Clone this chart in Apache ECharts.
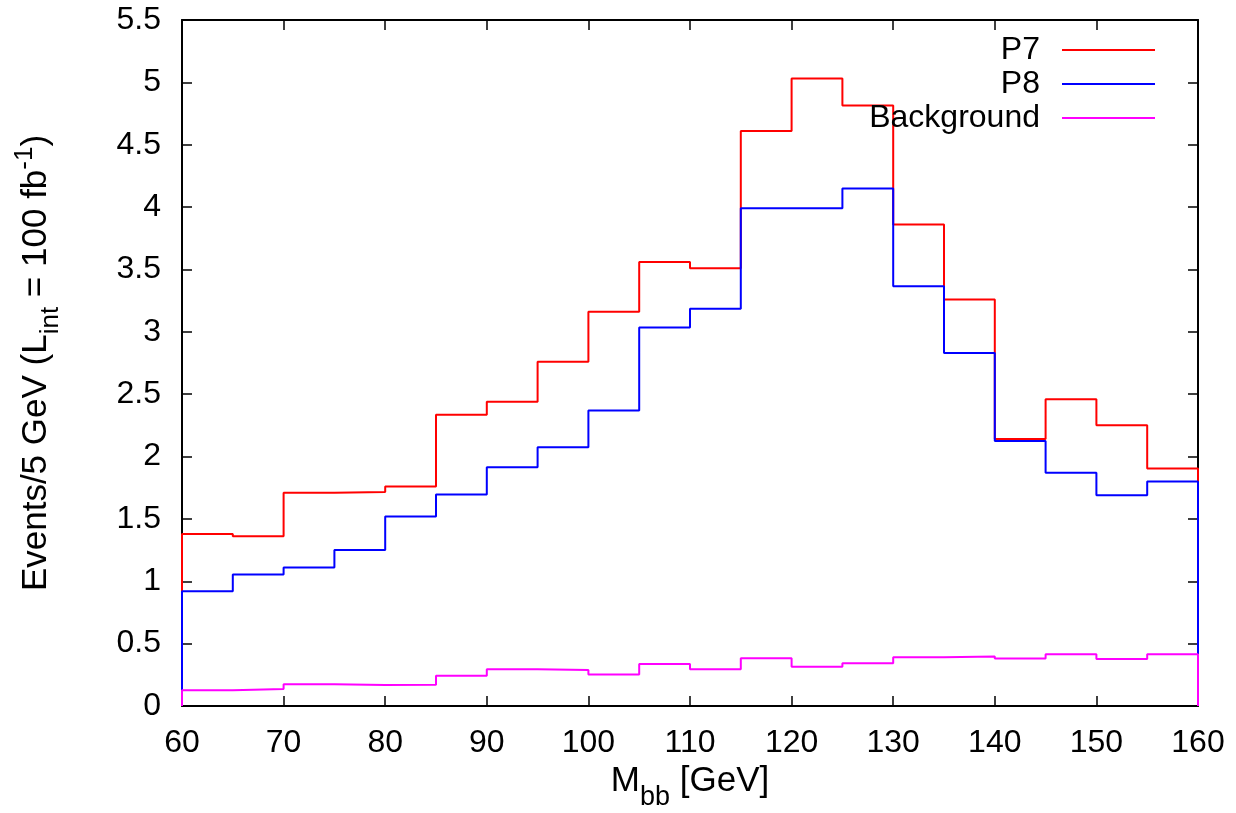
<!DOCTYPE html>
<html>
<head>
<meta charset="utf-8">
<script src="https://cdn.jsdelivr.net/npm/echarts@6/dist/echarts.min.js"></script>
<style>html,body{margin:0;padding:0;background:#fff}#c{width:1236px;height:813px}</style>
</head>
<body>
<div id="c"></div>
<script>
// Bin edges (GeV), 5 GeV bins from 60 to 160
const binEdges = [60,65,70,75,80,85,90,95,100,105,110,115,120,125,130,135,140,145,150,155,160];
const seriesNames = ['P7','P8','Background'];
// Events per bin
const p7 = [1.38,1.36,1.71,1.715,1.76,2.335,2.44,2.76,3.16,3.56,3.51,4.61,5.03,4.815,3.86,3.26,2.14,2.46,2.25,1.905];
const p8 = [0.92,1.055,1.11,1.25,1.52,1.695,1.915,2.075,2.37,3.035,3.185,3.99,3.99,4.15,3.365,2.83,2.125,1.87,1.69,1.80];
const bkg = [0.126,0.137,0.174,0.168,0.171,0.243,0.294,0.289,0.252,0.336,0.295,0.382,0.315,0.342,0.39,0.397,0.38,0.414,0.377,0.414];

function histSteps(vals){
  const pts = [[binEdges[0],0]];
  for(let i=0;i<vals.length;i++) pts.push([binEdges[i],vals[i]]);
  pts.push([binEdges[binEdges.length-1], vals[vals.length-1]]);
  pts.push([binEdges[binEdges.length-1], 0]);
  return pts;
}
const colors = ['#ff0000','#0000ff','#ff00ff'];
const font = '"Liberation Sans", Arial, Helvetica, sans-serif';
const chart = echarts.init(document.getElementById('c'), null, {renderer:'canvas'});
const axisCommon = {
  axisLine:{show:true,onZero:false,lineStyle:{color:'#000',width:2}},
  axisTick:{show:true,inside:true,length:10,lineStyle:{color:'#000',width:1.5}},
  splitLine:{show:false}
};
chart.setOption({
  animation:false,
  backgroundColor:'#fff',
  grid:{left:182,right:38,top:20,bottom:107,containLabel:false,outerBoundsMode:'none'},
  legend:{
    data:seriesNames, orient:'vertical', align:'right',
    right:76, top:29, itemWidth:93, itemHeight:14, itemGap:2,
    icon:'path://M0,6L93,6L93,8L0,8Z',
    textStyle:{fontFamily:font,fontSize:32,color:'#000',padding:[0,17,0,0]}
  },
  xAxis:[
    Object.assign({type:'value',min:60,max:160,interval:10,position:'bottom',
      name:'{n|M}{s|bb}{n| [GeV]}', nameLocation:'middle', nameGap:44,
      nameTextStyle:{fontFamily:font,rich:{
        n:{fontFamily:font,fontSize:35,color:'#000',verticalAlign:'bottom',lineHeight:40},
        s:{fontFamily:font,fontSize:27,color:'#000',verticalAlign:'bottom',lineHeight:30,padding:[0,0,-12,0]}}},
      axisLabel:{fontFamily:font,fontSize:32,color:'#000',margin:21}}, axisCommon),
    Object.assign({type:'value',min:60,max:160,interval:10,position:'top',axisLabel:{show:false}}, axisCommon)
  ],
  yAxis:[
    Object.assign({type:'value',min:0,max:5.5,interval:0.5,position:'left',
      name:'{n|Events/5 GeV (L}{s|int}{n| = 100 fb}{p|-1}{n|)}', nameLocation:'middle', nameGap:128, nameRotate:90,
      nameTextStyle:{fontFamily:font,rich:{
        n:{fontFamily:font,fontSize:35,color:'#000',verticalAlign:'bottom',lineHeight:40},
        s:{fontFamily:font,fontSize:26,color:'#000',verticalAlign:'bottom',lineHeight:30,padding:[0,0,-10,0]},
        p:{fontFamily:font,fontSize:26,color:'#000',verticalAlign:'bottom',lineHeight:30,padding:[0,0,16,0]}}},
      axisLabel:{fontFamily:font,fontSize:32,color:'#000',margin:21,
        formatter:v=>String(Math.round(v*10)/10)}}, axisCommon),
    Object.assign({type:'value',min:0,max:5.5,interval:0.5,position:'right',axisLabel:{show:false}}, axisCommon)
  ],
  series:[p7,p8,bkg].map((vals,i)=>({
    name:seriesNames[i], type:'line', step:'end', data:histSteps(vals),
    symbol:'none', clip:true,
    lineStyle:{color:colors[i],width:2}, itemStyle:{color:colors[i]}
  }))
});
</script>
</body>
</html>
